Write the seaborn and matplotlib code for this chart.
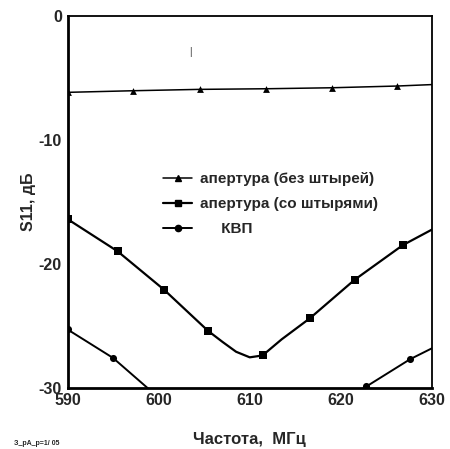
import matplotlib.pyplot as plt
import seaborn as sns
from matplotlib.lines import Line2D

# triangles: aperture without pins
tri_freq = [590.0, 597.2, 604.5, 611.8, 619.0, 626.2, 633.4]
tri_s11 = [-6.18, -6.05, -5.94, -5.89, -5.81, -5.67, -5.45]

# squares: aperture with pins (markers)
sq_freq = [590.0, 595.5, 600.6, 605.4, 611.4, 616.6, 621.5, 626.8, 631.9]
sq_s11 = [-16.4, -19.0, -22.1, -25.4, -27.4, -24.4, -21.3, -18.5, -16.5]
# extra points read along the smooth curve between markers
sq_curve_freq = [607.0, 608.5, 610.0, 613.5]
sq_curve_s11 = [-26.3, -27.1, -27.55, -26.1]

# circles: KVP
kvp_freq = [590.0, 595.0, 600.0, 605.0, 610.0, 615.0, 618.0, 622.8, 627.6, 632.5]
kvp_s11 = [-25.3, -27.6, -30.8, -33.5, -35.0, -34.0, -32.1, -29.9, -27.7, -25.9]

labels = ['апертура (без штырей)', 'апертура (со штырями)', '     КВП']
x_ticks = [590, 600, 610, 620, 630]
y_ticks = [0, -10, -20, -30]

sns.set_style('white')
plt.rcParams['font.family'] = ['Liberation Sans', 'DejaVu Sans']
plt.rcParams['font.weight'] = 'bold'
plt.rcParams['axes.unicode_minus'] = False

fig = plt.figure(figsize=(4.5, 4.49), dpi=100)
ax = fig.add_axes([0.15, 0.1365, 0.81, 0.8285])

# triangle series
sns.lineplot(x=tri_freq, y=tri_s11, color='black', linewidth=1.1, ax=ax)
sns.scatterplot(x=tri_freq, y=tri_s11, color='black', marker='^', s=24,
                edgecolor='black', linewidth=0, ax=ax)

# square series: line through markers plus curve points
pts = sorted(zip(sq_freq + sq_curve_freq, sq_s11 + sq_curve_s11))
sns.lineplot(x=[p[0] for p in pts], y=[p[1] for p in pts], color='black',
             linewidth=1.6, sort=False, ax=ax)
sns.scatterplot(x=sq_freq, y=sq_s11, color='black', marker='s', s=34,
                edgecolor='black', linewidth=0, ax=ax)

# KVP series
sns.lineplot(x=kvp_freq, y=kvp_s11, color='black', linewidth=1.4, ax=ax)
sns.scatterplot(x=kvp_freq, y=kvp_s11, color='black', marker='o', s=26,
                edgecolor='black', linewidth=0, ax=ax)

ax.set_xlim(590, 630)
ax.set_ylim(-30, 0)
ax.set_xticks(x_ticks)
ax.set_yticks(y_ticks)
ax.tick_params(axis='both', length=0, labelsize=11.5, pad=4)
for lab in ax.get_xticklabels() + ax.get_yticklabels():
    lab.set_fontweight('bold')

for side in ['left', 'bottom']:
    ax.spines[side].set_linewidth(2.0)
for side in ['top', 'right']:
    ax.spines[side].set_linewidth(1.3)
for sp in ax.spines.values():
    sp.set_color('black')
    sp.set_visible(True)

ax.set_xlabel('Частота,  МГц', fontsize=12, fontweight='bold', labelpad=17)
ax.set_ylabel('S11, дБ', fontsize=11.5, fontweight='bold', labelpad=2)

# stray mark in the plot area
ax.text(603.5, -2.9, '|', fontsize=7, color='#333333', ha='center', va='center',
        fontweight='normal')

handles = [
    Line2D([], [], color='black', linewidth=1.1, marker='^', markersize=4.5),
    Line2D([], [], color='black', linewidth=1.6, marker='s', markersize=5),
    Line2D([], [], color='black', linewidth=1.4, marker='o', markersize=4.5),
]
ax.legend(handles, labels, loc='upper left', bbox_to_anchor=(0.262, 0.579),
          frameon=False, prop={'weight': 'bold', 'size': 11},
          handlelength=1.9, handletextpad=0.55, labelspacing=0.72,
          borderpad=0, borderaxespad=0)

fig.text(0.03, 0.008, 'З_рА_р=1/ 05', fontsize=5)

fig.savefig('out.png', dpi=100)
